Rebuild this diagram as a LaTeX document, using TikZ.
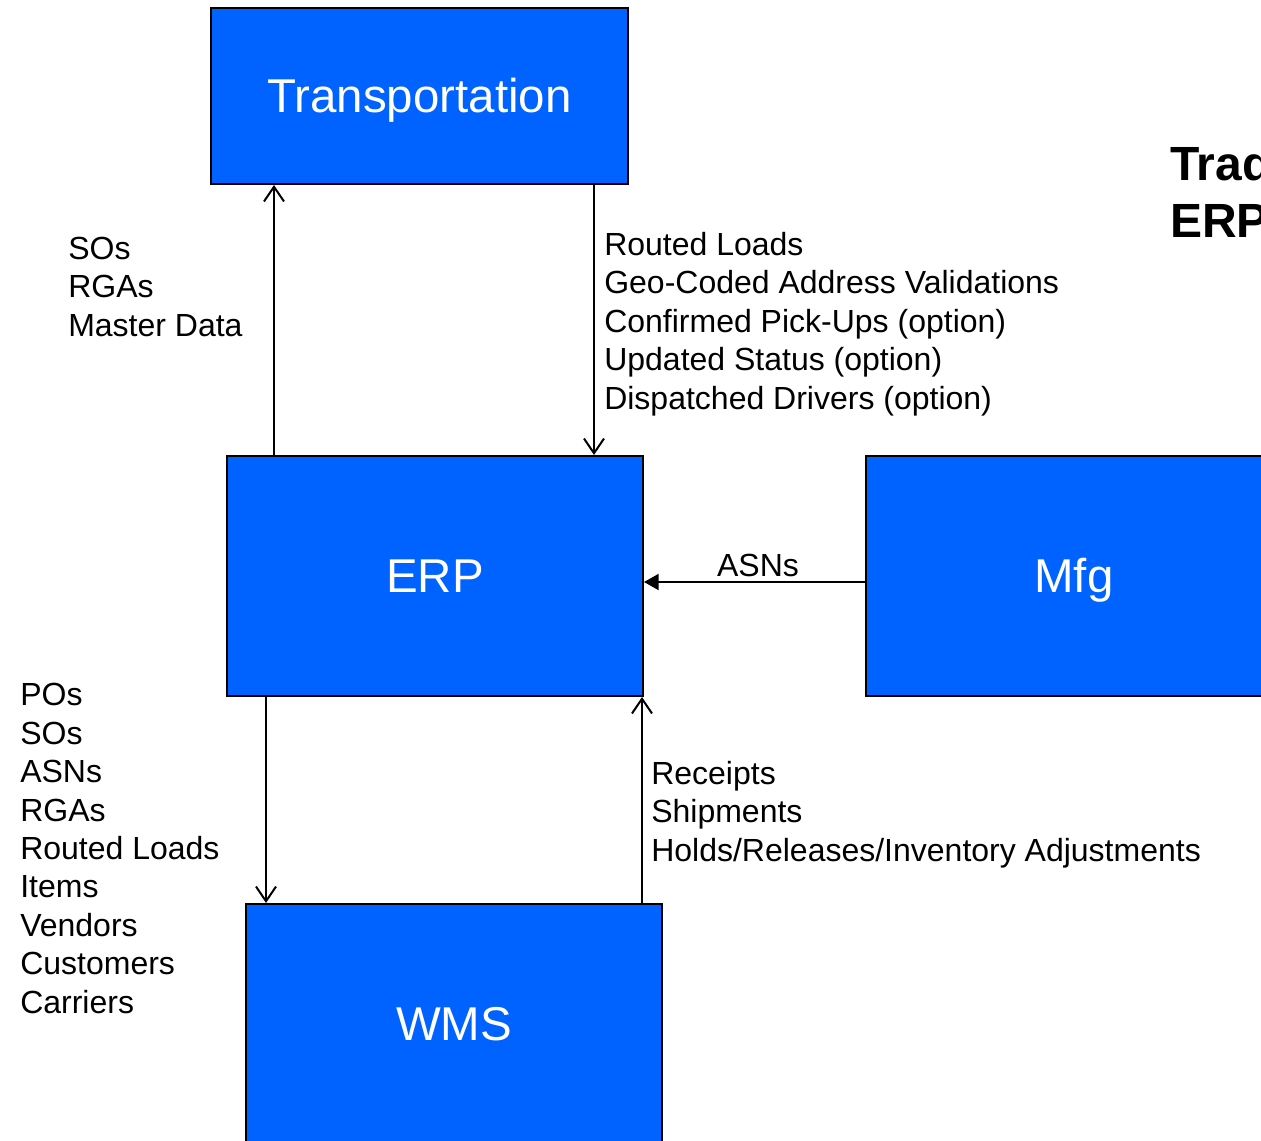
\documentclass[tikz,border=0pt]{standalone}
\usepackage{fontspec}
\setmainfont{Liberation Sans}
\usetikzlibrary{arrows.meta}
\definecolor{boxblue}{HTML}{0062FF}
\begin{document}
\begin{tikzpicture}[x=0.75pt,y=-0.75pt,
  sysbox/.style={draw=black, line width=1.5pt, fill=boxblue, text=white,
    anchor=north west, inner sep=0pt, text height=32.2pt, text depth=7.5pt,
    font=\fontsize{35.6}{42}\selectfont},
  lbl/.style={anchor=base west, align=left, inner sep=0pt,
    font=\fontsize{24}{28.8}\selectfont},
  flow/.style={line width=1.5pt, -{Straight Barb[length=11pt,width=15pt,line width=1.5pt]}},
  push/.style={line width=1.5pt, -{Triangle[length=11pt,width=12pt]}}]
\clip (0,0) rectangle (1261,1140);
% systems
\node[sysbox, minimum width=417*0.75pt, minimum height=176*0.75pt] (trans) at (210,7) {Transportation};
\node[sysbox, minimum width=416*0.75pt, minimum height=240*0.75pt] (erp) at (226,455) {ERP};
\node[sysbox, minimum width=416*0.75pt, minimum height=240*0.75pt] (mfg) at (865,455) {Mfg};
\node[sysbox, minimum width=416*0.75pt, minimum height=240*0.75pt] (wms) at (245,903) {WMS};
% data flows
\draw[flow] (erp.north -| 274,0) -- (trans.south -| 274,0);
\draw[flow] (trans.south -| 594,0) -- (erp.north -| 594,0);
\draw[push] (mfg.west |- 0,582) -- (erp.east |- 0,582);
\draw[flow] (erp.south -| 266,0) -- (wms.north -| 266,0);
\draw[flow] (wms.north -| 642,0) -- (erp.south -| 642,0);
% flow labels (anchored at the baseline of their last line)
\node[lbl] (l1) at (68,336) {SOs\\RGAs\\Master Data};
\node[lbl] (l2) at (604,409) {Routed Loads\\Geo-Coded Address Validations\\Confirmed Pick-Ups (option)\\Updated Status (option)\\Dispatched Drivers (option)};
\node[lbl, anchor=base] (l3) at (758,576) {ASNs};
\node[lbl] (l4) at (20,1013) {POs\\SOs\\ASNs\\RGAs\\Routed Loads\\Items\\Vendors\\Customers\\Carriers};
\node[lbl] (l5) at (651,861) {Receipts\\Shipments\\Holds/Releases/Inventory Adjustments};
% heading
\node[anchor=base west, align=left, inner sep=0pt, font=\fontsize{36}{42.75}\selectfont\bfseries] (head) at (1170,237) {Trad\\ERP};
\end{tikzpicture}
\end{document}
